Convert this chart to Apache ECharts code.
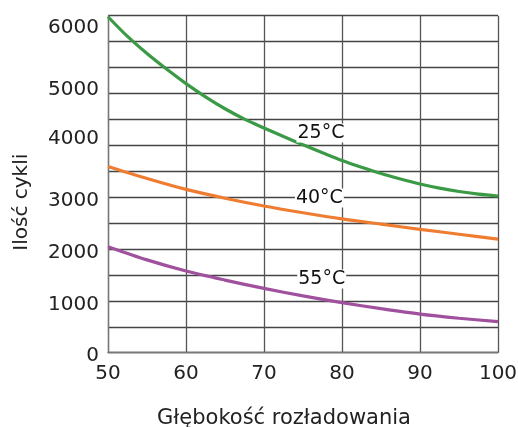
<!DOCTYPE html>
<html><head><meta charset="utf-8">
<script src="https://cdn.jsdelivr.net/npm/echarts@6/dist/echarts.min.js"></script>
<style>html,body{margin:0;padding:0;background:#fff}#c{width:518px;height:427px}</style>
</head><body><div id="c"></div>
<script>
const depthFine = [50, 52.5, 55, 57.5, 60, 62.5, 65, 67.5, 70, 72.5, 75, 77.5, 80, 82.5, 85, 87.5, 90, 92.5, 95, 97.5, 100];
const cycles25 = [6480, 6100, 5770, 5470, 5190, 4935, 4705, 4505, 4335, 4170, 4010, 3855, 3705, 3575, 3455, 3350, 3255, 3175, 3110, 3060, 3023];
const depth = [50, 55, 60, 65, 70, 75, 80, 85, 90, 95, 100];
const cycles40 = [3590, 3360, 3150, 2980, 2830, 2700, 2580, 2480, 2380, 2285, 2190];
const cycles55 = [2045, 1790, 1575, 1400, 1240, 1095, 965, 850, 745, 665, 598];
const seriesNames = ['25°C', '40°C', '55°C'];
const yTickLabels = ['0', '1000', '2000', '3000', '4000', '5000', '6000'];
const yTickPos = [0, 1000, 2000, 3000, 4200, 5140, 6330];
const xTitle = 'Głębokość rozładowania';
const yTitle = 'Ilość cykli';

const font = 'DejaVu Sans';
function pts(xs, arr){ return xs.map((d,i)=>[d, arr[i]]); }
function tag(text, coord){
  return {
    symbol: 'rect', symbolSize: 0, silent: true,
    data: [{coord: coord, value: text}],
    label: {show: true, position: 'inside', formatter: text, color: '#111',
      fontFamily: font, fontSize: 19, backgroundColor: '#fff', padding: [0, 1, 0, 1]}
  };
}
const chart = echarts.init(document.getElementById('c'), null, {renderer: 'canvas'});
chart.setOption({
  animation: false,
  grid: {left: 108, right: 20, top: 15.7, bottom: 74.3, containLabel: false, outerBoundsMode: 'none'},
  xAxis: {
    type: 'value', min: 50, max: 100, interval: 10,
    name: xTitle, nameLocation: 'middle', nameGap: 55,
    nameTextStyle: {fontFamily: font, fontSize: 21, color: '#222', padding: [0, 38, 0, 0]},
    axisLine: {show: true, lineStyle: {color: '#777', width: 1.3}},
    axisTick: {show: false},
    axisLabel: {fontFamily: font, fontSize: 20, color: '#222', margin: 11},
    splitLine: {show: true, lineStyle: {color: '#555', width: 1.3}}
  },
  yAxis: {
    type: 'value', min: 0, max: 6500, interval: 500,
    name: yTitle, nameLocation: 'middle', nameGap: 76, nameRotate: 90,
    nameTextStyle: {fontFamily: font, fontSize: 20, color: '#222', padding: [0, 36, 0, 0]},
    axisLine: {show: true, lineStyle: {color: '#777', width: 1.3}},
    axisTick: {show: false},
    axisLabel: {
      fontFamily: font, fontSize: 20, color: '#222', margin: 9,
      customValues: yTickPos,
      formatter: function(v){ const i = yTickPos.indexOf(v); return i >= 0 ? '{t|' + yTickLabels[i] + '}' : ''; },
      rich: {t: {fontFamily: font, fontSize: 20, color: '#222', padding: [7, 0, 0, 0]}}
    },
    splitLine: {show: true, lineStyle: {color: '#444', width: 1.3}}
  },
  series: [
    {name: seriesNames[0], type: 'line', smooth: 0.3, showSymbol: false, data: pts(depthFine, cycles25),
      lineStyle: {color: '#3a9a46', width: 3.2}, z: 3,
      markPoint: tag(seriesNames[0], [77.3, 4238])},
    {name: seriesNames[1], type: 'line', smooth: 0.3, showSymbol: false, data: pts(depth, cycles40),
      lineStyle: {color: '#ee7d31', width: 3.2}, z: 3,
      markPoint: tag(seriesNames[1], [77.1, 2984])},
    {name: seriesNames[2], type: 'line', smooth: 0.3, showSymbol: false, data: pts(depth, cycles55),
      lineStyle: {color: '#a0519e', width: 3.2}, z: 3,
      markPoint: tag(seriesNames[2], [77.4, 1422])}
  ]
});
</script></body></html>
